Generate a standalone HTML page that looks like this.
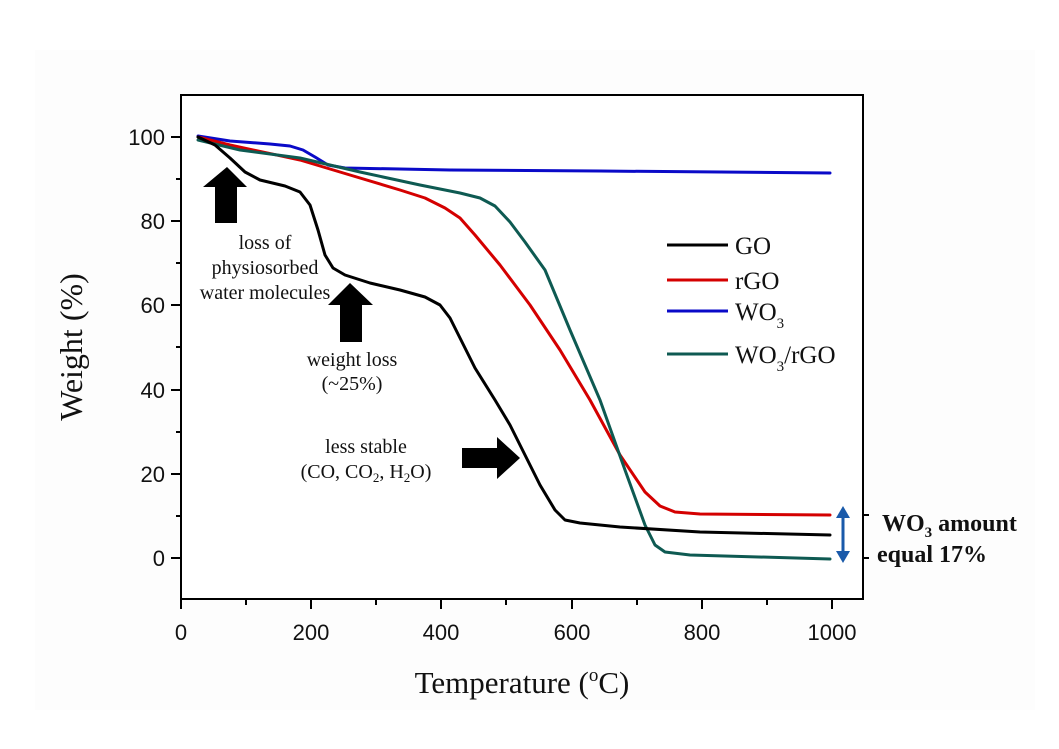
<!DOCTYPE html>
<html><head><meta charset="utf-8"><style>body{margin:0;background:#fff}svg{display:block}</style></head>
<body>
<svg width="1059" height="749" viewBox="0 0 1059 749" xmlns="http://www.w3.org/2000/svg">
<rect width="1059" height="749" fill="#fff"/>
<rect x="35" y="50" width="1000" height="660" fill="#fdfdfd"/>
<rect x="181" y="95" width="682" height="504" fill="#fff" stroke="#000" stroke-width="2"/>
<g stroke="#000" stroke-width="2">
<line x1="181" y1="599" x2="181" y2="609"/><line x1="311" y1="599" x2="311" y2="609"/><line x1="441" y1="599" x2="441" y2="609"/><line x1="572" y1="599" x2="572" y2="609"/><line x1="702" y1="599" x2="702" y2="609"/><line x1="832" y1="599" x2="832" y2="609"/>
<line x1="246" y1="599" x2="246" y2="605"/><line x1="376" y1="599" x2="376" y2="605"/><line x1="506" y1="599" x2="506" y2="605"/><line x1="637" y1="599" x2="637" y2="605"/><line x1="767" y1="599" x2="767" y2="605"/>
<line x1="171" y1="558" x2="181" y2="558"/><line x1="171" y1="474" x2="181" y2="474"/><line x1="171" y1="390" x2="181" y2="390"/><line x1="171" y1="305" x2="181" y2="305"/><line x1="171" y1="221" x2="181" y2="221"/><line x1="171" y1="137" x2="181" y2="137"/>
<line x1="176" y1="516" x2="181" y2="516"/><line x1="176" y1="432" x2="181" y2="432"/><line x1="176" y1="347" x2="181" y2="347"/><line x1="176" y1="263" x2="181" y2="263"/><line x1="176" y1="179" x2="181" y2="179"/>
<line x1="863" y1="515" x2="869" y2="515"/><line x1="863" y1="558" x2="869" y2="558"/>
</g>
<g font-family="Liberation Sans, sans-serif" font-size="22" fill="#111">
<text x="181" y="640" text-anchor="middle">0</text><text x="311" y="640" text-anchor="middle">200</text><text x="441" y="640" text-anchor="middle">400</text><text x="572" y="640" text-anchor="middle">600</text><text x="702" y="640" text-anchor="middle">800</text><text x="832" y="640" text-anchor="middle">1000</text>
<g text-anchor="end"><text x="165" y="566">0</text><text x="165" y="482">20</text><text x="165" y="398">40</text><text x="165" y="313">60</text><text x="165" y="229">80</text><text x="165" y="145">100</text></g>
</g>
<g font-family="Liberation Serif, serif" fill="#111">
<text x="522" y="693" font-size="31" text-anchor="middle">Temperature (<tspan font-size="19" dy="-12">o</tspan><tspan dy="12">C)</tspan></text>
<text transform="translate(82,347) rotate(-90)" font-size="32" text-anchor="middle">Weight (%)</text>
</g>
<g fill="none" stroke-width="3" stroke-linejoin="round" stroke-linecap="round">
<polyline stroke="#0a0ac8" points="198,136 230,141 270,144 290,146 303,150 315,157 328,165 345,168 450,170 600,171 830,173"/>
<polyline stroke="#d40000" points="198,137 230,145 300,160 350,175 400,190 425,198 445,208 460,218 475,235 500,265 530,305 560,350 590,400 620,455 645,492 660,506 675,512 700,514 830,515"/>
<polyline stroke="#0e5a52" points="198,140 240,150 300,158 360,172 420,185 460,193 480,198 495,206 510,222 525,242 545,270 570,330 600,400 625,470 645,525 655,545 665,552 690,555 830,559"/>
<polyline stroke="#000" points="198,137 215,145 230,158 245,172 260,180 285,186 300,192 310,205 318,230 325,255 333,268 345,275 370,283 400,290 425,297 440,305 450,318 460,338 475,368 495,400 510,425 525,455 540,485 555,510 565,520 580,523 620,527 700,532 830,535"/>
</g>
<g fill="#000">
<polygon points="227,167 247,187 237,187 237,223 215,223 215,187 203,187"/>
<polygon points="350,283 373,305 362,305 362,342 340,342 340,305 328,305"/>
<polygon points="520,458 497,437 497,448 462,448 462,468 497,468 497,479"/>
</g>
<g font-family="Liberation Serif, serif" font-size="20" fill="#111" text-anchor="middle">
<text x="265" y="249">loss of</text><text x="265" y="274">physiosorbed</text><text x="265" y="299">water molecules</text>
<text x="352" y="366">weight loss</text><text x="352" y="390">(~25%)</text>
<text x="366" y="453">less stable</text><text x="366" y="478">(CO, CO<tspan font-size="13" dy="4">2</tspan><tspan dy="-4">, H</tspan><tspan font-size="13" dy="4">2</tspan><tspan dy="-4">O)</tspan></text>
</g>
<g stroke-width="3">
<line x1="667" y1="245" x2="728" y2="245" stroke="#000"/>
<line x1="667" y1="280" x2="728" y2="280" stroke="#d40000"/>
<line x1="667" y1="311" x2="728" y2="311" stroke="#0a0ac8"/>
<line x1="667" y1="354" x2="728" y2="354" stroke="#0e5a52"/>
</g>
<g font-family="Liberation Serif, serif" font-size="25" fill="#111">
<text x="735" y="254">GO</text><text x="735" y="289">rGO</text>
<text x="735" y="320">WO<tspan font-size="15" dy="8">3</tspan></text>
<text x="735" y="363">WO<tspan font-size="15" dy="8">3</tspan><tspan dy="-8">/rGO</tspan></text>
</g>
<g stroke="#1a5aaa" fill="#1a5aaa">
<line x1="843" y1="514" x2="843" y2="555" stroke-width="3"/>
<polygon points="843,506 836,518 850,518" stroke="none"/>
<polygon points="843,563 836,551 850,551" stroke="none"/>
</g>
<g font-family="Liberation Serif, serif" font-size="24" font-weight="bold" fill="#111">
<text x="882" y="531">WO<tspan font-size="15" dy="6">3</tspan><tspan dy="-6"> amount</tspan></text>
<text x="877" y="562">equal 17%</text>
</g>
</svg>
</body></html>
